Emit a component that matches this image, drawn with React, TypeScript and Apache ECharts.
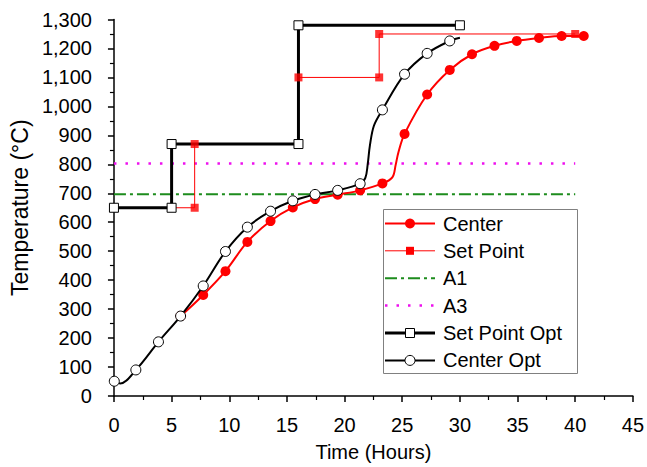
import React, { useEffect, useRef } from "react";
import * as echarts from "echarts";

// [hours, °C, marker shown (1) or curve-only (0)]
const centerPts: [number, number, number][] = [
  [5.78, 276, 1], [7.74, 349, 1], [9.67, 431, 1], [11.57, 532, 1], [13.58, 604, 1],
  [15.51, 651, 1], [17.44, 680, 1], [19.4, 695, 1], [21.35, 710, 1], [23.28, 734, 1],
  [24.14, 755, 0], [24.43, 798, 0], [24.66, 840, 0],
  [25.2, 905, 1], [27.16, 1041, 1], [29.12, 1126, 1], [31.05, 1180, 1], [33.0, 1209, 1],
  [34.93, 1226, 1], [36.86, 1236, 1], [38.82, 1243, 1], [40.74, 1243, 1],
];

const centerOptPts: [number, number, number][] = [
  [0.03, 51, 1], [0.54, 43, 0], [1.9, 90, 1], [3.86, 187, 1], [5.78, 276, 1], [7.74, 380, 1],
  [9.67, 499, 1], [11.57, 583, 1], [13.58, 638, 1], [15.51, 674, 1], [17.44, 696, 1],
  [19.4, 710, 1], [21.35, 733, 1],
  [21.8, 753, 0], [22.0, 798, 0], [22.2, 866, 0], [22.55, 934, 0],
  [23.28, 988, 1], [25.2, 1111, 1], [27.16, 1183, 1], [29.12, 1226, 1], [30.0, 1237, 0],
];

const setPoint: [number, number][] = [
  [0, 650], [7, 650], [7, 870], [16, 870], [16, 1100], [23, 1100], [23, 1250], [40, 1250],
];

const setPointOpt: [number, number][] = [
  [0, 650], [5, 650], [5, 870], [16, 870], [16, 1280], [30, 1280],
];

const a1Value = 697;
const a3Value = 803;
const criticalSpan: [number, number] = [0, 40];

const legendNames = ["Center", "Set Point", "A1", "A3", "Set Point Opt", "Center Opt"];

const FONT = '"Liberation Sans", Arial, Helvetica, sans-serif';
const RED = "#ff0000";
const GREEN = "#1d8c1d";
const MAGENTA = "#ee10ee";

function toItems(pts: [number, number, number][]) {
  return pts.map(([x, y, m]) => (m ? { value: [x, y] } : { value: [x, y], symbol: "none" }));
}

export default function App() {
  const ref = useRef<HTMLDivElement>(null);

  useEffect(() => {
    if (!ref.current) return;
    const chart = echarts.init(ref.current, undefined, { renderer: "svg" });

    // red markers that are not hidden beneath an open black square
    const setPointMarkers = setPoint.filter(
      ([x, y]) => !setPointOpt.some(([ox, oy]) => ox === x && oy === y)
    );

    const rowsY = [223.5, 250.8, 278.2, 305.6, 333, 360.4];
    const lx1 = 385, lx2 = 435, mx = 410, tx = 443;
    const legendGraphics: any[] = [
      {
        type: "rect",
        shape: { x: 383.5, y: 209.5, width: 194, height: 164 },
        style: { fill: "#fff", stroke: "#808080", lineWidth: 1 },
        z: 100,
      },
    ];
    const lineDefs = [
      { stroke: RED, lw: 2, dash: null as any },
      { stroke: RED, lw: 1, dash: null },
      { stroke: GREEN, lw: 2, dash: [12, 4, 3, 4] },
      { stroke: MAGENTA, lw: 2.5, dash: [2.5, 9] },
      { stroke: "#000", lw: 3, dash: null },
      { stroke: "#000", lw: 2, dash: null },
    ];
    legendNames.forEach((name, i) => {
      const y = rowsY[i];
      const d = lineDefs[i];
      legendGraphics.push({
        type: "line",
        shape: { x1: lx1, y1: y, x2: lx2, y2: y },
        style: { stroke: d.stroke, lineWidth: d.lw, lineDash: d.dash || undefined },
        z: 101,
      });
      if (i === 0) {
        legendGraphics.push({ type: "circle", shape: { cx: mx, cy: y, r: 5 }, style: { fill: RED }, z: 102 });
      } else if (i === 1) {
        legendGraphics.push({ type: "rect", shape: { x: mx - 4, y: y - 4, width: 8, height: 8 }, style: { fill: RED }, z: 102 });
      } else if (i === 4) {
        legendGraphics.push({ type: "rect", shape: { x: mx - 4.5, y: y - 4.5, width: 9, height: 9 }, style: { fill: "#fff", stroke: "#000", lineWidth: 1 }, z: 102 });
      } else if (i === 5) {
        legendGraphics.push({ type: "circle", shape: { cx: mx, cy: y, r: 5 }, style: { fill: "#fff", stroke: "#000", lineWidth: 1 }, z: 102 });
      }
      legendGraphics.push({
        type: "text",
        x: tx,
        y: y,
        style: { text: name, font: `20px ${FONT}`, fill: "#000", verticalAlign: "middle", align: "left" },
        z: 102,
      });
    });

    const option: any = {
      animation: false,
      backgroundColor: "#fff",
      grid: { left: 112, top: 19.5, width: 521.3, height: 382.5, containLabel: false },
      xAxis: {
        type: "value",
        min: 0,
        max: 45,
        interval: 5,
        name: "Time (Hours)",
        nameLocation: "middle",
        nameGap: 46,
        nameTextStyle: { fontSize: 20, fontFamily: FONT, color: "#000" },
        axisLine: { show: true, onZero: false, lineStyle: { color: "#000", width: 1.5 } },
        axisTick: { show: true, inside: false, length: 6, lineStyle: { color: "#000", width: 1.5 } },
        minorTick: { show: true, splitNumber: 2, length: 4, lineStyle: { color: "#000", width: 1.2 } },
        axisLabel: { fontSize: 20, fontFamily: FONT, color: "#000", margin: 19 },
        splitLine: { show: false },
      },
      yAxis: {
        type: "value",
        min: 0,
        max: 1300,
        interval: 100,
        name: "Temperature (°C)",
        nameLocation: "middle",
        nameGap: 67,
        nameTextStyle: { fontSize: 23, fontFamily: FONT, color: "#000" },
        axisLine: { show: true, onZero: false, lineStyle: { color: "#000", width: 1.5 } },
        axisTick: { show: true, inside: false, length: 6, lineStyle: { color: "#000", width: 1.5 } },
        minorTick: { show: true, splitNumber: 2, length: 4, lineStyle: { color: "#000", width: 1.2 } },
        axisLabel: {
          fontSize: 20,
          fontFamily: FONT,
          color: "#000",
          margin: 22,
          formatter: (v: number) => v.toLocaleString("en-US"),
        },
        splitLine: { show: false },
      },
      graphic: legendGraphics,
      series: [
        {
          name: "A1",
          type: "line",
          data: [[criticalSpan[0], a1Value], [criticalSpan[1], a1Value]],
          symbol: "none",
          lineStyle: { color: GREEN, width: 2, type: [12, 4, 3, 4] },
          z: 1,
        },
        {
          name: "A3",
          type: "line",
          data: [[criticalSpan[0], a3Value], [criticalSpan[1], a3Value]],
          symbol: "none",
          lineStyle: { color: MAGENTA, width: 2.5, type: [2.5, 9] },
          z: 1,
        },
        {
          name: "Set Point",
          type: "line",
          data: setPoint,
          symbol: "none",
          lineStyle: { color: RED, width: 1 },
          z: 2,
        },
        {
          name: "Set Point Opt",
          type: "line",
          data: setPointOpt,
          symbol: "rect",
          symbolSize: 9,
          itemStyle: { color: "#fff", borderColor: "#000", borderWidth: 1 },
          lineStyle: { color: "#000", width: 3 },
          z: 3,
        },
        {
          name: "Set Point markers",
          type: "scatter",
          data: setPointMarkers,
          symbol: "rect",
          symbolSize: 8,
          itemStyle: { color: RED },
          z: 4,
        },
        {
          name: "Center",
          type: "line",
          data: toItems(centerPts),
          smooth: 0.35,
          symbol: "circle",
          symbolSize: 10,
          itemStyle: { color: RED },
          lineStyle: { color: RED, width: 2 },
          z: 5,
        },
        {
          name: "Center Opt",
          type: "line",
          data: toItems(centerOptPts),
          smooth: 0.35,
          symbol: "circle",
          symbolSize: 10,
          itemStyle: { color: "#fff", borderColor: "#000", borderWidth: 1 },
          lineStyle: { color: "#000", width: 2 },
          z: 6,
        },
      ],
    };

    chart.setOption(option);
    return () => chart.dispose();
  }, []);

  return (
    <div
      ref={ref}
      style={{ position: "fixed", left: 0, top: 0, width: 647, height: 467, background: "#fff" }}
    />
  );
}
